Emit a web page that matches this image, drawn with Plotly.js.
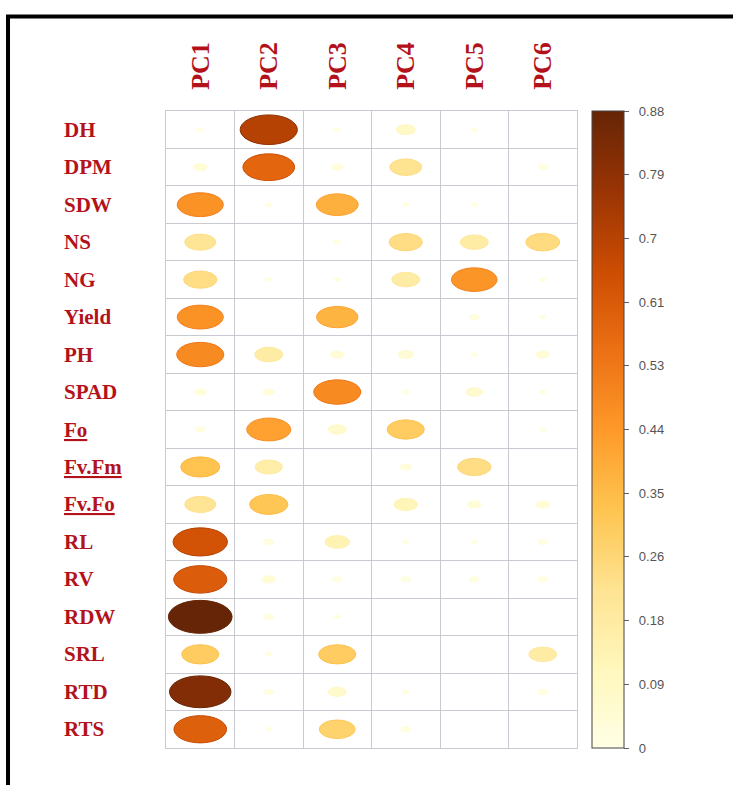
<!DOCTYPE html>
<html>
<head>
<meta charset="utf-8">
<script src="https://cdn.plot.ly/plotly-3.0.1.min.js"></script>
<style>html,body{margin:0;padding:0;background:#fff;}#chart{width:733px;height:785px;}</style>
</head>
<body>
<div id="chart"></div>
<script>
// ---- data ----
const rows = ["DH","DPM","SDW","NS","NG","Yield","PH","SPAD","Fo","Fv.Fm","Fv.Fo","RL","RV","RDW","SRL","RTD","RTS"];
const pcs = ["PC1","PC2","PC3","PC4","PC5","PC6"];
const PC1 = [0.01,0.04,0.46,0.21,0.24,0.46,0.48,0.03,0.02,0.33,0.21,0.64,0.61,0.88,0.30,0.82,0.60];
const PC2 = [0.71,0.58,0.01,0.00,0.01,0.00,0.17,0.03,0.42,0.16,0.32,0.02,0.04,0.02,0.01,0.02,0.01];
const PC3 = [0.01,0.03,0.38,0.01,0.01,0.37,0.04,0.48,0.07,0.00,0.00,0.13,0.02,0.01,0.30,0.07,0.28];
const PC4 = [0.08,0.22,0.01,0.24,0.17,0.00,0.05,0.01,0.30,0.03,0.12,0.01,0.02,0.00,0.00,0.01,0.02];
const PC5 = [0.01,0.00,0.01,0.17,0.45,0.02,0.01,0.06,0.00,0.24,0.04,0.01,0.02,0.00,0.00,0.00,0.00];
const PC6 = [0.00,0.02,0.00,0.25,0.01,0.01,0.04,0.01,0.01,0.00,0.04,0.02,0.02,0.00,0.17,0.02,0.00];
const cbTickVals = [0,0.088,0.176,0.264,0.352,0.44,0.528,0.616,0.704,0.792,0.88];
const cbTickText = ["0","0.09","0.18","0.26","0.35","0.44","0.53","0.61","0.7","0.79","0.88"];
const VMAX = 0.88;
const series = [PC1,PC2,PC3,PC4,PC5,PC6];

// ---- style ----
const ylorbr = ["#FFFFE5","#FFF7BC","#FEE391","#FEC44F","#FE9929","#EC7014","#CC4C02","#993404","#662506"];
const colorscale = ylorbr.map((c,i)=>[i/(ylorbr.length-1), c]);
function hex2rgb(h){return [parseInt(h.slice(1,3),16),parseInt(h.slice(3,5),16),parseInt(h.slice(5,7),16)];}
function colorFor(v){
  let f = Math.max(0, Math.min(1, v / VMAX)) * (ylorbr.length-1);
  let i = Math.min(Math.floor(f), ylorbr.length-2), t = f - i;
  const a = hex2rgb(ylorbr[i]), b = hex2rgb(ylorbr[i+1]);
  const c = a.map((x,k)=>Math.round(x + (b[k]-x)*t));
  return `rgb(${c[0]},${c[1]},${c[2]})`;
}
const labelRed = "#b3121b";
const gridCol = "#c9c9d1";
const pad = "\u00A0\u00A0";

const shapes = [];
const xs = [], ys = [], cs = [];
series.forEach((vals, j) => {
  vals.forEach((v, i) => {
    xs.push(j); ys.push(i); cs.push(v);
    if (v <= 0) return;
    const s = Math.sqrt(v / VMAX);
    const rx = 0.465 * s, ry = 0.44 * s;
    shapes.push({type:'circle', xref:'x', yref:'y', layer:'above',
      x0:j-rx, x1:j+rx, y0:i-ry, y1:i+ry, fillcolor:colorFor(v),
      line:{width:1, color:colorFor(Math.min(VMAX, v*1.12))}});
  });
});
// outer frame
shapes.push({type:'rect', xref:'paper', yref:'paper', layer:'above',
  x0:-0.3844, x1:1.45, y0:-0.09, y1:1.1483, line:{color:'#000', width:4}, fillcolor:'rgba(0,0,0,0)'});

const underlined = new Set(["Fo","Fv.Fm","Fv.Fo"]);
const annotations = rows.map((r,i)=>({
  xref:'paper', yref:'y', x:-0.2537, y:i, xanchor:'left', yanchor:'middle', showarrow:false,
  text: underlined.has(r) ? `<b><span style="text-decoration:underline">${r}</span></b>` : `<b>${r}</b>`,
  font:{family:'Liberation Serif', size:21, color:labelRed}
}));

const trace = {
  type:'scatter', mode:'markers', x:xs, y:ys, hoverinfo:'skip', showlegend:false,
  marker:{size:1, opacity:0, color:cs, cmin:0, cmax:VMAX, colorscale:colorscale, showscale:true,
    colorbar:{x:1.036, xanchor:'left', y:0.5, yanchor:'middle', len:1.0, lenmode:'fraction',
      thickness:32, xpad:0, ypad:0, outlinewidth:1, outlinecolor:'#444',
      tickmode:'array', tickvals:cbTickVals, ticktext:cbTickText.map(t=>pad+t),
      ticks:'outside', ticklen:5, tickcolor:'#666', tickwidth:1,
      tickfont:{family:'Liberation Sans', size:13, color:'#555'}}}
};

const layout = {
  width:733, height:785,
  margin:{l:166, r:156, t:111, b:37, pad:0},
  paper_bgcolor:'#fff', plot_bgcolor:'#fff',
  showlegend:false,
  xaxis:{range:[-0.5,5.5], side:'top', tickmode:'array', tickvals:pcs.map((p,j)=>j), ticktext:pcs,
    tickangle:-90, tickfont:{family:'Liberation Serif', size:26, color:labelRed, weight:'bold'},
    ticks:'outside', ticklen:15, tickcolor:'rgba(0,0,0,0)',
    showgrid:false, zeroline:false, showline:true, mirror:true, linecolor:gridCol, linewidth:1,
    minor:{tickmode:'linear', tick0:0.5, dtick:1, showgrid:true, gridcolor:gridCol, gridwidth:1, ticks:''},
    fixedrange:true},
  yaxis:{range:[16.5,-0.5], showticklabels:false, ticks:'', tickmode:'array', tickvals:[],
    showgrid:false, zeroline:false, showline:true, mirror:true, linecolor:gridCol, linewidth:1,
    minor:{tickmode:'linear', tick0:0.5, dtick:1, showgrid:true, gridcolor:gridCol, gridwidth:1, ticks:''},
    fixedrange:true},
  shapes:shapes,
  annotations:annotations
};

Plotly.newPlot('chart', [trace], layout, {displayModeBar:false, staticPlot:true});
</script>
</body>
</html>
